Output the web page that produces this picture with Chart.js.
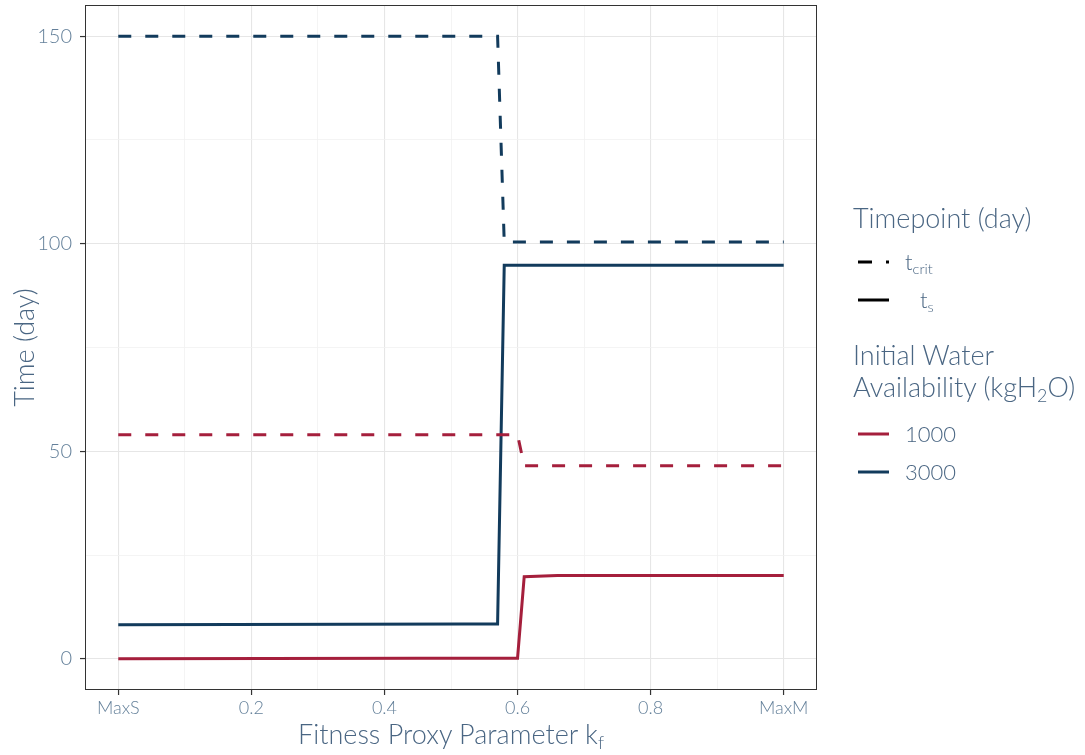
<!DOCTYPE html>
<html>
<head>
<meta charset="utf-8">
<script src="https://cdn.jsdelivr.net/npm/chart.js@4/dist/chart.umd.min.js"></script>
<style>
  html, body { margin: 0; padding: 0; background: #ffffff; }
  #wrap { position: relative; width: 1085px; height: 755px; font-family: Lato, "Open Sans", sans-serif; font-weight: 300; }
  #c { position: absolute; left: 0; top: 0; }
  .txt { position: absolute; white-space: nowrap; color: #4a6683; }
  .txt sub { font-size: 66%; vertical-align: -0.3em; line-height: 0; }
  #xtitle { left: 85px; width: 732px; text-align: center; top: 718px; font-size: 27px; line-height: 32px; }
  .ltitle { left: 853px; font-size: 27px; line-height: 32px; }
  .llabel { font-size: 22px; line-height: 26px; }
  svg.key { position: absolute; left: 856px; width: 36px; height: 10px; overflow: visible; }
</style>
</head>
<body>
<div id="wrap">
  <canvas id="c" width="1085" height="755"></canvas>
  <div id="xtitle" class="txt">Fitness Proxy Parameter k<sub>f</sub></div>

  <div class="txt ltitle" style="top:202px">Timepoint (day)</div>
  <svg class="key" style="top:257px"><line x1="2" y1="5" x2="16" y2="5" stroke="#000" stroke-width="3"/><line x1="30" y1="5" x2="33" y2="5" stroke="#000" stroke-width="3"/></svg>
  <div class="txt llabel" style="left:905px; top:249px">t<sub>crit</sub></div>
  <svg class="key" style="top:295px"><line x1="2" y1="5" x2="33" y2="5" stroke="#000" stroke-width="3"/></svg>
  <div class="txt llabel" style="left:920px; top:287px">t<sub>s</sub></div>

  <div class="txt ltitle" style="top:339px">Initial Water<br>Availability (kgH<sub>2</sub>O)</div>
  <svg class="key" style="top:429px"><line x1="2" y1="5" x2="33" y2="5" stroke="#a51f3c" stroke-width="3"/></svg>
  <div class="txt llabel" style="left:905px; top:421px">1000</div>
  <svg class="key" style="top:467px"><line x1="2" y1="5" x2="33" y2="5" stroke="#123b5c" stroke-width="3"/></svg>
  <div class="txt llabel" style="left:905px; top:459px">3000</div>
</div>

<script>
// Axis ticks
const xTickValues = [0, 0.2, 0.4, 0.6, 0.8, 1];
const xTickLabels = ['MaxS', '0.2', '0.4', '0.6', '0.8', 'MaxM'];
const xMinorTicks = [0.1, 0.3, 0.5, 0.7, 0.9];
const yTickValues = [0, 50, 100, 150];
const yTickLabels = ['0', '50', '100', '150'];
const yMinorTicks = [25, 75, 125];

// Step curves: k_f breakpoints and time (day)
const kfCrit3000 = [0, 0.57, 0.58, 1];
const tCrit3000  = [150, 150, 100.4, 100.4];
const kfS3000    = [0, 0.52, 0.57, 0.58, 1];
const tS3000     = [8.2, 8.4, 8.4, 94.8, 94.8];
const kfCrit1000 = [0, 0.6, 0.61, 1];
const tCrit1000  = [54, 54, 46.5, 46.5];
const kfS1000    = [0, 0.45, 0.6, 0.61, 0.66, 1];
const tS1000     = [0, 0.15, 0.15, 19.8, 20.1, 20.1];

const RED = '#a51f3c';
const BLUE = '#123b5c';
const TICK_TEXT = '#64809a';
const TITLE_TEXT = '#4a6683';
const DASH = [13, 14];

const pts = (xs, ys) => xs.map((x, i) => ({ x: x, y: ys[i] }));
const near = (a, b) => Math.abs(a - b) < 1e-9;
const isIn = (v, arr) => arr.some(a => near(a, v));

function lineDs(label, xs, ys, color, dashed) {
  return {
    label: label,
    data: pts(xs, ys),
    borderColor: color,
    borderWidth: 3,
    borderDash: dashed ? DASH : [],
    borderCapStyle: 'butt',
    borderJoinStyle: 'miter',
    pointRadius: 0,
    tension: 0,
    fill: false
  };
}

const panelBorder = {
  id: 'panelBorder',
  afterDraw(chart) {
    const { ctx, chartArea: a } = chart;
    ctx.save();
    ctx.strokeStyle = '#333333';
    ctx.lineWidth = 1;
    ctx.strokeRect(a.left + 0.5, a.top + 0.5, a.right - a.left - 1, a.bottom - a.top - 1);
    ctx.restore();
  }
};

new Chart(document.getElementById('c'), {
  type: 'line',
  data: {
    datasets: [
      lineDs('1000 t_s', kfS1000, tS1000, RED, false),
      lineDs('1000 t_crit', kfCrit1000, tCrit1000, RED, true),
      lineDs('3000 t_s', kfS3000, tS3000, BLUE, false),
      lineDs('3000 t_crit', kfCrit3000, tCrit3000, BLUE, true)
    ]
  },
  options: {
    responsive: false,
    animation: false,
    layout: { padding: { left: 0, right: 268, top: 5, bottom: 0 } },
    plugins: { legend: { display: false }, tooltip: { enabled: false } },
    scales: {
      x: {
        type: 'linear',
        min: -0.05,
        max: 1.05,
        afterBuildTicks: s => {
          s.ticks = xTickValues.concat(xMinorTicks).sort((a, b) => a - b).map(v => ({ value: v }));
        },
        afterFit: s => { s.height = 65; s.paddingLeft = 0; s.paddingRight = 0; },
        border: { display: false },
        grid: {
          color: c => isIn(c.tick.value, xMinorTicks) ? '#f1f1f1' : '#e6e6e6',
          lineWidth: c => isIn(c.tick.value, xMinorTicks) ? 0.8 : 1.1,
          tickLength: 5,
          tickColor: c => isIn(c.tick.value, xMinorTicks) ? 'rgba(0,0,0,0)' : '#333333',
          tickWidth: 1.2
        },
        ticks: {
          autoSkip: false,
          maxRotation: 0,
          padding: 2,
          color: TICK_TEXT,
          font: { family: 'Lato', size: 18, weight: 300 },
          callback: v => {
            const i = xTickValues.findIndex(t => near(t, v));
            return i >= 0 ? xTickLabels[i] : '';
          }
        }
      },
      y: {
        type: 'linear',
        min: -7.5,
        max: 157.5,
        afterBuildTicks: s => {
          s.ticks = yTickValues.concat(yMinorTicks).sort((a, b) => a - b).map(v => ({ value: v }));
        },
        afterFit: s => { s.width = 85; s.paddingTop = 0; s.paddingBottom = 0; },
        border: { display: false },
        grid: {
          color: c => isIn(c.tick.value, yMinorTicks) ? '#f1f1f1' : '#e6e6e6',
          lineWidth: c => isIn(c.tick.value, yMinorTicks) ? 0.8 : 1.1,
          tickLength: 5,
          tickColor: c => isIn(c.tick.value, yMinorTicks) ? 'rgba(0,0,0,0)' : '#333333',
          tickWidth: 1.2
        },
        ticks: {
          autoSkip: false,
          padding: 8,
          color: TICK_TEXT,
          font: { family: 'Lato', size: 20, weight: 300 },
          callback: v => {
            const i = yTickValues.findIndex(t => near(t, v));
            return i >= 0 ? yTickLabels[i] : '';
          }
        },
        title: {
          display: true,
          text: 'Time (day)',
          color: TITLE_TEXT,
          font: { family: 'Lato', size: 27, weight: 300 },
          padding: { top: 9, bottom: 0 }
        }
      }
    }
  },
  plugins: [panelBorder]
});
</script>
</body>
</html>
